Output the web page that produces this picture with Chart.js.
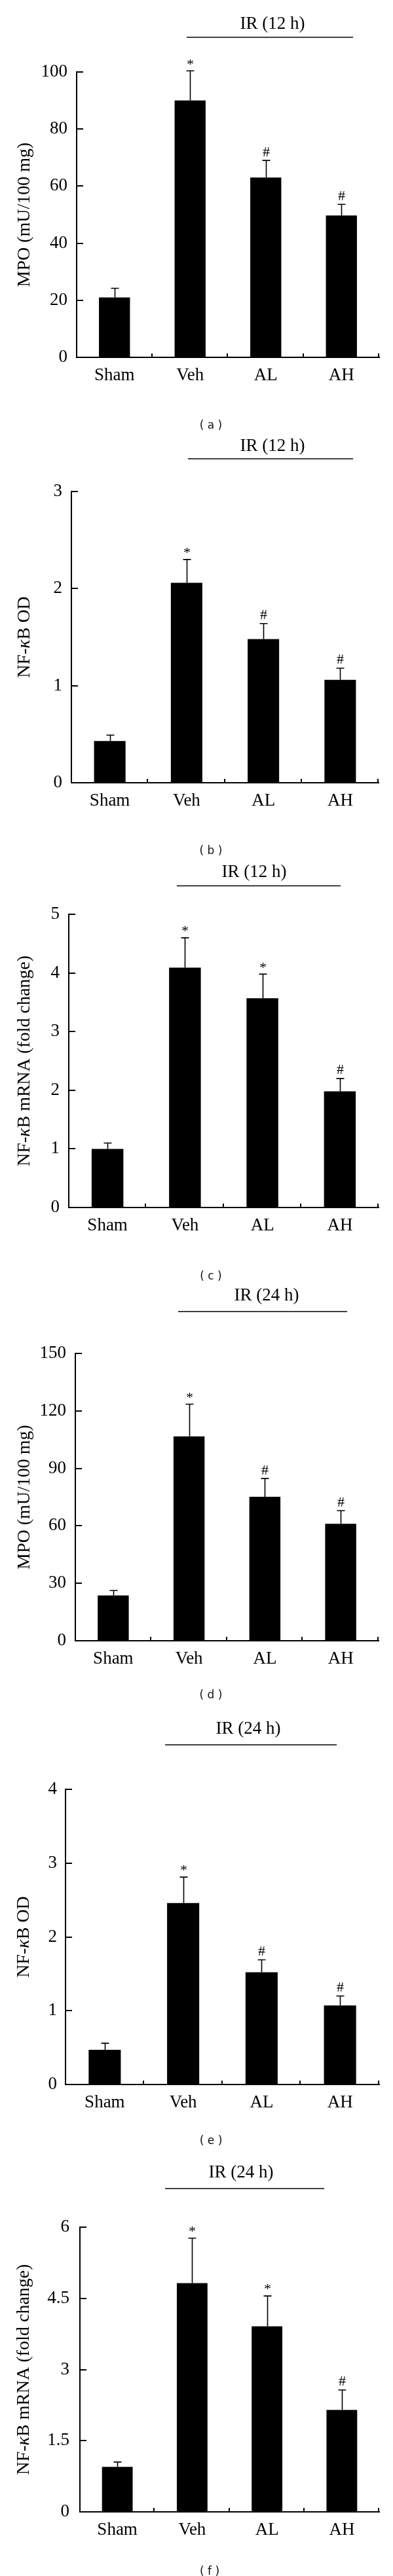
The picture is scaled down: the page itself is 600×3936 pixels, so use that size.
<!DOCTYPE html>
<html><head><meta charset="utf-8">
<script src="https://cdn.jsdelivr.net/npm/chart.js@4/dist/chart.umd.min.js"></script>
<style>
html,body{margin:0;padding:0;background:#fff;}
body{width:600px;height:3936px;position:relative;overflow:hidden;}
.wrap{position:absolute;left:0;width:600px;height:640px;}
.wrap canvas{display:block;}
.cap{position:absolute;white-space:nowrap;font:17px "DejaVu Sans",sans-serif;color:#111;transform:translate(-50%,-50%);z-index:5;}
</style></head><body>
<script>
// ---------- data ----------
const categories = ['Sham', 'Veh', 'AL', 'AH'];

const mpo12h        = [21.0, 90.0, 63.0, 49.7];
const mpo12hSem     = [3.2, 10.4, 6.0, 3.9];
const nfkbOd12h     = [0.43, 2.06, 1.48, 1.06];
const nfkbOd12hSem  = [0.06, 0.24, 0.16, 0.12];
const nfkbMrna12h   = [1.00, 4.09, 3.57, 1.98];
const nfkbMrna12hSem= [0.10, 0.51, 0.41, 0.22];
const mpo24h        = [23.7, 106.7, 75.2, 61.1];
const mpo24hSem     = [2.5, 16.8, 9.5, 6.8];
const nfkbOd24h     = [0.47, 2.46, 1.52, 1.07];
const nfkbOd24hSem  = [0.09, 0.35, 0.17, 0.13];
const nfkbMrna24h   = [0.95, 4.82, 3.91, 2.15];
const nfkbMrna24hSem= [0.10, 0.95, 0.64, 0.42];

const marksA = ['', '*', '#', '#'];
const marksB = ['', '*', '#', '#'];
const marksC = ['', '*', '*', '#'];
const marksD = ['', '*', '#', '#'];
const marksE = ['', '*', '#', '#'];
const marksF = ['', '*', '*', '#'];

const ticksMpo12  = [0, 20, 40, 60, 80, 100];
const ticksOd12   = [0, 1, 2, 3];
const ticksMrna12 = [0, 1, 2, 3, 4, 5];
const ticksMpo24  = [0, 30, 60, 90, 120, 150];
const ticksOd24   = [0, 1, 2, 3, 4];
const ticksMrna24 = [0, 1.5, 3, 4.5, 6];

const timeLabels = ['IR (12 h)', 'IR (24 h)'];
const panelLetters = ['a', 'b', 'c', 'd', 'e', 'f'];
// axis titles: [text, italic]
const titleMpo  = [['MPO (mU/100 mg)', false]];
const titleOd   = [['NF-', false], ['\u03BA', true], ['B OD', false]];
const titleMrna = [['NF-', false], ['\u03BA', true], ['B mRNA (fold change)', false]];

// ---------- panels ----------
const panels = [
  { values: mpo12h,      errors: mpo12hSem,      marks: marksA, ticks: ticksMpo12,  title: titleMpo,  time: timeLabels[0] },
  { values: nfkbOd12h,   errors: nfkbOd12hSem,   marks: marksB, ticks: ticksOd12,   title: titleOd,   time: timeLabels[0] },
  { values: nfkbMrna12h, errors: nfkbMrna12hSem, marks: marksC, ticks: ticksMrna12, title: titleMrna, time: timeLabels[0] },
  { values: mpo24h,      errors: mpo24hSem,      marks: marksD, ticks: ticksMpo24,  title: titleMpo,  time: timeLabels[1] },
  { values: nfkbOd24h,   errors: nfkbOd24hSem,   marks: marksE, ticks: ticksOd24,   title: titleOd,   time: timeLabels[1] },
  { values: nfkbMrna24h, errors: nfkbMrna24hSem, marks: marksF, ticks: ticksMrna24, title: titleMrna, time: timeLabels[1] }
];

// ---------- layout (page pixels) ----------
const CH = 640;
const geo = [
  { off: 0,    left: 117, right: 579, top: 110,  zero: 546,  ir: [416, 37],     line: [285, 539, 57],     titleX: 38, gap: 14, cap: [322, 649] },
  { off: 645,  left: 109, right: 578, top: 751,  zero: 1196, ir: [416, 681.5],  line: [287, 539, 701],    titleX: 38, gap: 14, cap: [322, 1299] },
  { off: 1296, left: 105, right: 578, top: 1397, zero: 1845, ir: [388, 1333],   line: [270, 520, 1353.5], titleX: 38, gap: 14, cap: [322, 1949] },
  { off: 1942, left: 115, right: 578, top: 2068, zero: 2507, ir: [407, 1979.5], line: [272, 530, 2004],   titleX: 38, gap: 14, cap: [322, 2589] },
  { off: 2605, left: 100, right: 579, top: 2734, zero: 3185, ir: [379, 2642],   line: [252, 514, 2666],   titleX: 37, gap: 13, cap: [322, 3269.5] },
  { off: 3283, left: 122, right: 579, top: 3403, zero: 3838, ir: [368, 3320],   line: [252, 495, 3344],   titleX: 37, gap: 16, cap: [320, 3927.5] }
];

const SERIF = '"Liberation Serif", "Times New Roman", serif';

const decor = {
  id: 'decor',
  afterDatasetsDraw(chart) {
    const o = chart.options.plugins.decor;
    if (!o) return;
    const ctx = chart.ctx, xs = chart.scales.x, ys = chart.scales.y, ca = chart.chartArea;
    ctx.save();
    ctx.strokeStyle = '#000';
    ctx.fillStyle = '#000';
    // inner y ticks
    ctx.lineWidth = 2;
    ys.ticks.forEach(t => {
      const y = Math.round(ys.getPixelForValue(t.value));
      ctx.beginPath(); ctx.moveTo(ca.left, y); ctx.lineTo(ca.left + 10, y); ctx.stroke();
    });
    // category boundary ticks
    const w = xs.getPixelForValue(1) - xs.getPixelForValue(0);
    for (let i = 0; i < categories.length; i++) {
      const x = Math.round(xs.getPixelForValue(i) + w / 2) - 1;
      ctx.beginPath(); ctx.moveTo(x, ca.bottom); ctx.lineTo(x, ca.bottom - 6); ctx.stroke();
    }
    // error bars + significance marks
    const meta = chart.getDatasetMeta(0);
    ctx.lineWidth = 1.6;
    meta.data.forEach((bar, i) => {
      const yTop = ys.getPixelForValue(o.values[i] + o.errors[i]);
      const x = Math.round(bar.x) + 0.5;
      ctx.beginPath();
      ctx.moveTo(x, bar.y); ctx.lineTo(x, yTop);
      ctx.moveTo(x - 6, yTop); ctx.lineTo(x + 6, yTop);
      ctx.stroke();
      const m = o.marks[i];
      if (m) {
        ctx.font = '22px ' + SERIF;
        ctx.textAlign = 'center';
        ctx.textBaseline = 'alphabetic';
        const base = yTop - 14 + (m === '*' ? 10.3 : 7.4);
        ctx.fillText(m, x, base);
      }
    });
    // IR label and overline
    ctx.font = '27px ' + SERIF;
    ctx.textAlign = 'center';
    ctx.textBaseline = 'middle';
    ctx.fillText(o.time, o.ir[0], o.ir[1]);
    ctx.lineWidth = 1.5;
    ctx.beginPath(); ctx.moveTo(o.line[0], o.line[2]); ctx.lineTo(o.line[1], o.line[2]); ctx.stroke();
    // y-axis title (rotated, mixed italic)
    ctx.translate(o.titleX, (ca.top + ca.bottom) / 2);
    ctx.rotate(-Math.PI / 2);
    ctx.textAlign = 'left';
    ctx.textBaseline = 'middle';
    const fontFor = it => (it ? 'italic ' : '') + '28px ' + SERIF;
    let total = 0;
    o.title.forEach(([t, it]) => { ctx.font = fontFor(it); total += ctx.measureText(t).width; });
    let cx = -total / 2;
    o.title.forEach(([t, it]) => { ctx.font = fontFor(it); ctx.fillText(t, cx, 0); cx += ctx.measureText(t).width; });
    ctx.restore();
  }
};

panels.forEach((p, k) => {
  const g = geo[k];
  const wrap = document.createElement('div');
  wrap.className = 'wrap';
  wrap.style.top = g.off + 'px';
  const cv = document.createElement('canvas');
  cv.width = 600; cv.height = CH;
  cv.style.width = '600px'; cv.style.height = CH + 'px';
  wrap.appendChild(cv);
  document.body.appendChild(wrap);

  const cap = document.createElement('div');
  cap.className = 'cap';
  cap.style.left = g.cap[0] + 'px';
  cap.style.top = g.cap[1] + 'px';
  cap.textContent = '( ' + panelLetters[k] + ' )';
  document.body.appendChild(cap);

  const tickVals = p.ticks;
  new Chart(cv, {
    type: 'bar',
    data: {
      labels: categories,
      datasets: [{ data: p.values, backgroundColor: '#000', borderWidth: 0, categoryPercentage: 1.0, barPercentage: 0.41 }]
    },
    options: {
      responsive: false,
      animation: false,
      devicePixelRatio: 1,
      layout: { padding: { left: 0, right: 600 - g.right, top: g.top - g.off, bottom: 0 } },
      plugins: {
        legend: { display: false },
        tooltip: { enabled: false },
        title: { display: false },
        decor: {
          values: p.values, errors: p.errors, marks: p.marks, time: p.time, title: p.title,
          ir: [g.ir[0], g.ir[1] - g.off], line: [g.line[0], g.line[1], g.line[2] - g.off], titleX: g.titleX
        }
      },
      scales: {
        x: {
          type: 'category',
          offset: true,
          grid: { display: true, drawOnChartArea: false, drawTicks: false, color: 'rgba(0,0,0,0)' },
          border: { display: true, color: '#000', width: 2 },
          ticks: { color: '#000', font: { family: SERIF, size: 27 }, padding: 12, maxRotation: 0, autoSkip: false },
          afterFit: s => { s.height = CH - (g.zero - g.off); }
        },
        y: {
          min: tickVals[0],
          max: tickVals[tickVals.length - 1],
          grid: { display: true, drawOnChartArea: false, drawTicks: false, color: 'rgba(0,0,0,0)' },
          border: { display: true, color: '#000', width: 2 },
          afterBuildTicks: s => { s.ticks = tickVals.map(v => ({ value: v })); },
          ticks: { color: '#000', font: { family: SERIF, size: 27 }, padding: g.gap, callback: v => String(v) },
          afterFit: s => { s.width = g.left; }
        }
      }
    },
    plugins: [decor]
  });
});
</script>
</body></html>
